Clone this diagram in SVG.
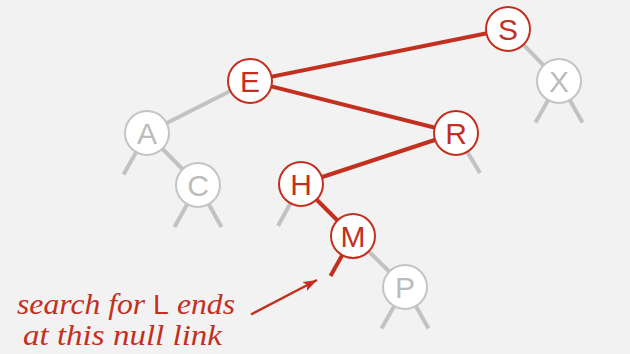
<svg xmlns="http://www.w3.org/2000/svg" width="630" height="354" viewBox="0 0 630 354">
<style>
.bg{fill:#f2f2f2}
.lr{stroke:#c3301f;stroke-width:4;fill:none;stroke-linecap:butt}
.lg{stroke:#c2c2c2;stroke-width:4;fill:none;stroke-linecap:butt}
.nr circle{fill:#fff;stroke:#c3301f;stroke-width:2}
.ng circle{fill:#fff;stroke:#c4c4c4;stroke-width:2}
.nr text{fill:#c3301f}
.ng text{fill:#bcbcbc}
.n text{font-family:"Liberation Sans",Arial,sans-serif;font-size:30px;text-anchor:middle}
.note{font-family:"Liberation Serif","Times New Roman",serif;font-style:italic;font-size:30px;fill:#c3301f}
</style>
<defs>
<marker id="ah" viewBox="0 0 14 10" refX="14" refY="5" markerWidth="14" markerHeight="10" markerUnits="userSpaceOnUse" orient="auto">
<path d="M0,0 L14,5 L0,10 L3,5 Z" fill="#c3301f"/>
</marker>
</defs>
<rect class="bg" x="0" y="0" width="630" height="354"/>
<g id="connectors">
<line class="lg" x1="508" y1="29" x2="559" y2="81"/>
<line class="lg" x1="559" y1="81" x2="535.5" y2="122.5"/>
<line class="lg" x1="559" y1="81" x2="582.5" y2="122.5"/>
<line class="lg" x1="250" y1="81" x2="147" y2="133"/>
<line class="lg" x1="147" y1="133" x2="123.5" y2="174.5"/>
<line class="lg" x1="147" y1="133" x2="198" y2="185"/>
<line class="lg" x1="198" y1="185" x2="174.5" y2="227"/>
<line class="lg" x1="198" y1="185" x2="221.5" y2="227"/>
<line class="lg" x1="456" y1="133" x2="480" y2="173"/>
<line class="lg" x1="301" y1="184" x2="278" y2="226"/>
<line class="lg" x1="353" y1="236" x2="405" y2="287"/>
<line class="lg" x1="405" y1="287" x2="381.5" y2="328.5"/>
<line class="lg" x1="405" y1="287" x2="428.5" y2="328.5"/>
<line class="lr" x1="508" y1="29" x2="250" y2="81"/>
<line class="lr" x1="250" y1="81" x2="456" y2="133"/>
<line class="lr" x1="456" y1="133" x2="301" y2="184"/>
<line class="lr" x1="301" y1="184" x2="353" y2="236"/>
<line class="lr" x1="353" y1="236" x2="330.5" y2="276"/>
<line x1="251" y1="314.5" x2="317" y2="280" stroke="#c3301f" stroke-width="2.5" marker-end="url(#ah)"/>
</g>
<g id="node-S" class="n nr"><circle cx="508" cy="29" r="22"/><text x="508" y="40">S</text></g>
<g id="node-X" class="n ng"><circle cx="559" cy="81" r="22"/><text x="559" y="92">X</text></g>
<g id="node-E" class="n nr"><circle cx="250" cy="81" r="22"/><text x="250" y="92">E</text></g>
<g id="node-R" class="n nr"><circle cx="456" cy="133" r="22"/><text x="456" y="144">R</text></g>
<g id="node-A" class="n ng"><circle cx="147" cy="133" r="22"/><text x="147" y="144">A</text></g>
<g id="node-C" class="n ng"><circle cx="198" cy="185" r="22"/><text x="198" y="196">C</text></g>
<g id="node-H" class="n nr"><circle cx="301" cy="184" r="22"/><text x="301" y="195">H</text></g>
<g id="node-M" class="n nr"><circle cx="353" cy="236" r="22"/><text x="353" y="247">M</text></g>
<g id="node-P" class="n ng"><circle cx="405" cy="287" r="22"/><text x="405" y="298">P</text></g>
<g id="note">
<text class="note" x="17" y="314" textLength="218" lengthAdjust="spacingAndGlyphs">search for <tspan font-family="Liberation Sans, Arial, sans-serif" font-style="normal" font-size="27">L</tspan> ends</text>
<text class="note" x="23" y="345" textLength="199" lengthAdjust="spacingAndGlyphs">at this null link</text>
</g>
</svg>
